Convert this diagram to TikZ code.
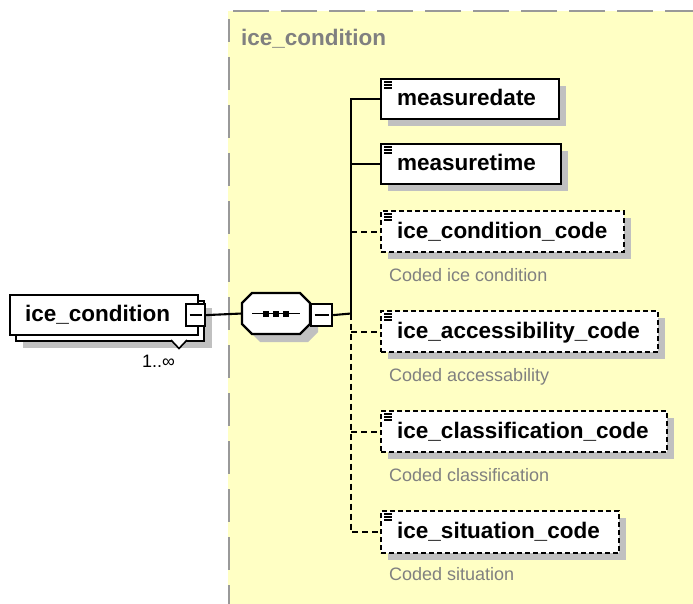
\documentclass[tikz,border=0pt]{standalone}
\usepackage{fontspec}
\setmainfont{Liberation Sans}
\usetikzlibrary{calc}
\definecolor{bgyellow}{HTML}{FFFFC4}
\definecolor{bordergray}{HTML}{999999}
\definecolor{shadowgray}{HTML}{C0C0C0}
\definecolor{descgray}{HTML}{808080}
\definecolor{titlegray}{HTML}{808080}
\tikzset{
  elembox/.style={draw=black, line width=2.2pt, fill=white, inner sep=0, anchor=north west},
  optbox/.style={elembox, dash pattern=on 5pt off 3pt},
  shadowfill/.style={fill=shadowgray},
  lbl/.style={font=\fontsize{22.5}{26}\selectfont\bfseries, anchor=base west, inner sep=0},
  desc/.style={font=\fontsize{18}{21}\selectfont, text=descgray, anchor=base west, inner sep=0},
  conn/.style={line width=2.1pt},
  optconn/.style={line width=2.1pt, dash pattern=on 6pt off 4pt},
  iconline/.style={line width=1.3pt},
}
\begin{document}
\begin{tikzpicture}[x=1pt,y=-1pt]
\useasboundingbox (0,0) rectangle (693,604);
% background group
\fill[bgyellow] (228,11) rectangle (693,604);
\draw[bordergray, line width=2pt, dash pattern=on 36pt off 12pt] (233,11.5) -- (693,11.5);
\draw[bordergray, line width=2pt, dash pattern=on 33pt off 15pt, dash phase=10pt] (228.5,19) -- (228.5,604);
\node[font=\fontsize{22.5}{26}\selectfont\bfseries, text=titlegray, anchor=base west, inner sep=0] (title) at (241,46) {ice\_condition};

% left element (repeated)
\fill[shadowgray] (23,308) rectangle (212,348);
\node[elembox, minimum width=188pt, minimum height=40pt] (rootback) at (15,300) {};
\node[elembox, minimum width=188pt, minimum height=40pt] (root) at (9,294) {};
\draw[line width=1.6pt, fill=white] (171,340) -- (179,348.5) -- (187,340);
\node[lbl] (rootl) at (25,321) {ice\_condition};
\node[elembox, minimum width=19pt, minimum height=22pt] (rootm) at (185,303) {};
\draw[line width=1.8pt] ($(rootm.center)+(-6,0)$) -- ($(rootm.center)+(6,0)$);
\node[font=\fontsize{18}{21}\selectfont, anchor=base west, inner sep=0] (mult) at (142,367) {1..∞};

% sequence compositor
\fill[shadowgray] (260,301) -- (308,301) -- (318,311) -- (318,332) -- (308,342) -- (260,342) -- (250,332) -- (250,311) -- cycle;
\draw[line width=2.2pt, fill=white] (252,293) -- (300,293) -- (310,303) -- (310,324) -- (300,334) -- (252,334) -- (242,324) -- (242,303) -- cycle;
\coordinate (seqw) at (242,313.5);
\coordinate (seqe) at (310,313.5);
\draw[line width=1.8pt] (252,313.5) -- (300,313.5);
\foreach \sx in {266,276,286} \fill (\sx-3,310.5) rectangle (\sx+3,316.5);
\node[elembox, minimum width=21pt, minimum height=22pt] (seqm) at (310,303) {};
\draw[line width=1.8pt] ($(seqm.center)+(-7,0)$) -- ($(seqm.center)+(7,0)$);
\draw[conn] (rootm.east) -- (seqw);

% trunk
\coordinate (tr) at (351,313.5);
\draw[conn] (seqm.east) -- (tr);

% children: shadows
\fill[shadowgray] (388,86) rectangle (566,126);
\fill[shadowgray] (388,151) rectangle (568,191);
\fill[shadowgray] (388,218) rectangle (631,259);
\fill[shadowgray] (388,318) rectangle (665,359);
\fill[shadowgray] (388,418) rectangle (674,459);
\fill[shadowgray] (388,518) rectangle (626,560);

% children: boxes
\node[elembox, minimum width=178pt, minimum height=40pt] (md) at (380,78) {};
\node[elembox, minimum width=180pt, minimum height=40pt] (mt) at (380,143) {};
\node[optbox, minimum width=243pt, minimum height=41pt] (cond) at (380,210) {};
\node[optbox, minimum width=277pt, minimum height=41pt] (acc) at (380,310) {};
\node[optbox, minimum width=286pt, minimum height=41pt] (cls) at (380,410) {};
\node[optbox, minimum width=238pt, minimum height=42pt] (sit) at (380,510) {};

% icons
\foreach \n in {md,mt,cond,acc,cls,sit}{
  \draw[iconline] ($(\n.north west)+(4,4)$) -- ++(8,0);
  \draw[iconline] ($(\n.north west)+(4,7)$) -- ++(8,0);
  \draw[iconline] ($(\n.north west)+(4,10)$) -- ++(8,0);
}

% labels
\node[lbl] (mdl) at (397,105.5) {measuredate};
\node[lbl] (mtl) at (397,170.5) {measuretime};
\node[lbl] (condl) at (397,238) {ice\_condition\_code};
\node[lbl] (accl) at (397,338) {ice\_accessibility\_code};
\node[lbl] (clsl) at (397,438) {ice\_classification\_code};
\node[lbl] (sitl) at (397,538) {ice\_situation\_code};

% descriptions
\node[desc] (condd) at (389,281) {Coded ice condition};
\node[desc] (accd) at (389,381) {Coded accessability};
\node[desc] (clsd) at (389,481) {Coded classification};
\node[desc] (sitd) at (389,580) {Coded situation};

% connectors
\draw[conn] (tr) -- (tr |- md.west) -- (md.west);
\draw[conn] (tr |- mt.west) -- (mt.west);
\draw[optconn] (tr |- cond.west) -- (cond.west);
\draw[optconn] (tr) -- (tr |- sit.west) -- (sit.west);
\draw[optconn] (tr |- acc.west) -- (acc.west);
\draw[optconn] (tr |- cls.west) -- (cls.west);
\end{tikzpicture}
\end{document}
